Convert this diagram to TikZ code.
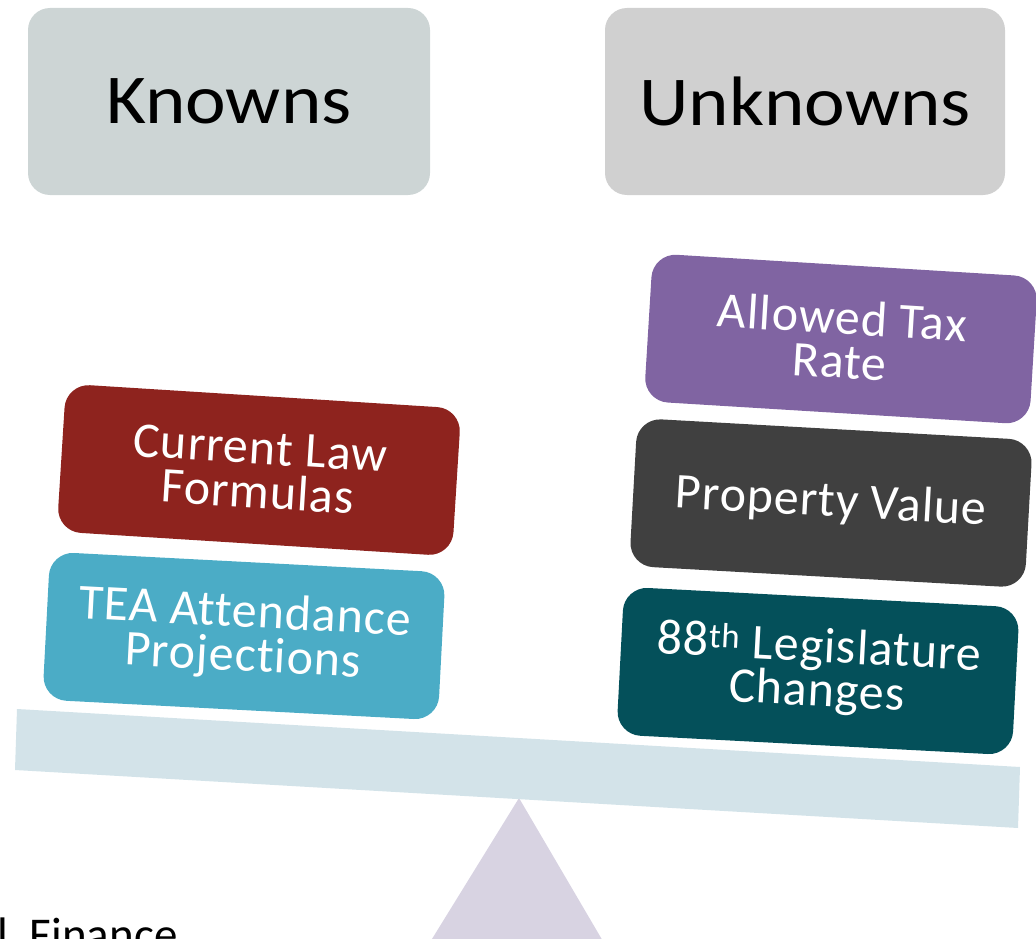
\documentclass[tikz,border=0pt]{standalone}
\usepackage{fontspec}
\setmainfont{Carlito}[Ligatures={NoCommon}]
\newfontfamily\boxfont{Carlito}[Ligatures={NoCommon}, LetterSpace=1.8]
\definecolor{knownbg}{RGB}{205,213,213}
\definecolor{unknownbg}{RGB}{208,208,208}
\definecolor{lawred}{RGB}{142,35,30}
\definecolor{teablue}{RGB}{75,172,198}
\definecolor{taxpurple}{RGB}{128,100,162}
\definecolor{propgrey}{RGB}{64,64,64}
\definecolor{legteal}{RGB}{4,80,90}
\definecolor{beamblue}{RGB}{211,227,233}
\definecolor{pivotlilac}{RGB}{216,211,226}
% widened heading lettering
\newcommand{\widehead}[1]{\scalebox{1.1}[1]{#1}}
\begin{document}
\begin{tikzpicture}[x=1pt,y=-1pt,
  header/.style={rounded corners=22pt, inner sep=0pt, minimum width=402pt,
    minimum height=187pt, text=black, font=\fontsize{70}{84}\selectfont},
  factor/.style={rounded corners=24pt, inner sep=0pt, minimum width=396pt,
    minimum height=148pt, text=white, align=center,
    font=\boxfont\fontsize{50}{44}\selectfont},
]
\useasboundingbox (0,0) rectangle (1036,939);
\clip (0,0) rectangle (1036,939);

% column headings
\node[header, fill=knownbg] (knowns) at (229,101.5) {\widehead{Knowns}};
\node[header, fill=unknownbg, minimum width=400pt] (unknowns) at (805,101.5) {\widehead{Unknowns}};

% pivot and tilted beam of the scale
\coordinate (apex) at (519,798);
\coordinate (pivotL) at (419,960);
\coordinate (pivotR) at (614,960);
\fill[pivotlilac] (apex) -- (pivotR) -- (pivotL) -- cycle;
\coordinate (beamTL) at (17,709);
\coordinate (beamTR) at (1020,767);
\coordinate (beamBR) at (1018,828);
\coordinate (beamBL) at (15,770);
\fill[beamblue] (beamTL) -- (beamTR) -- (beamBR) -- (beamBL) -- cycle;

% known factors (left pan)
\node[factor, fill=lawred, rotate=-3.6] (law) at (259,470) {Current Law\\Formulas};
\node[factor, fill=teablue, rotate=-3] (tea) at (244,636) {TEA Attendance\\Projections};

% unknown factors (right pan)
\node[factor, fill=taxpurple, rotate=-3.5, minimum width=386pt] (tax) at (841,339) {Allowed Tax\\Rate};
\node[factor, fill=propgrey, rotate=-3.2] (prop) at (831,503) {Property Value};
\node[factor, fill=legteal, rotate=-3] (leg) at (818,671) {88\textsuperscript{th} Legislature\\Changes};

% footer text running off the page edge
\node[anchor=base west, inner sep=0pt, font=\fontsize{47}{50}\selectfont] (footer) at (-3,950) {l\hspace{22pt}Finance};
\end{tikzpicture}
\end{document}
